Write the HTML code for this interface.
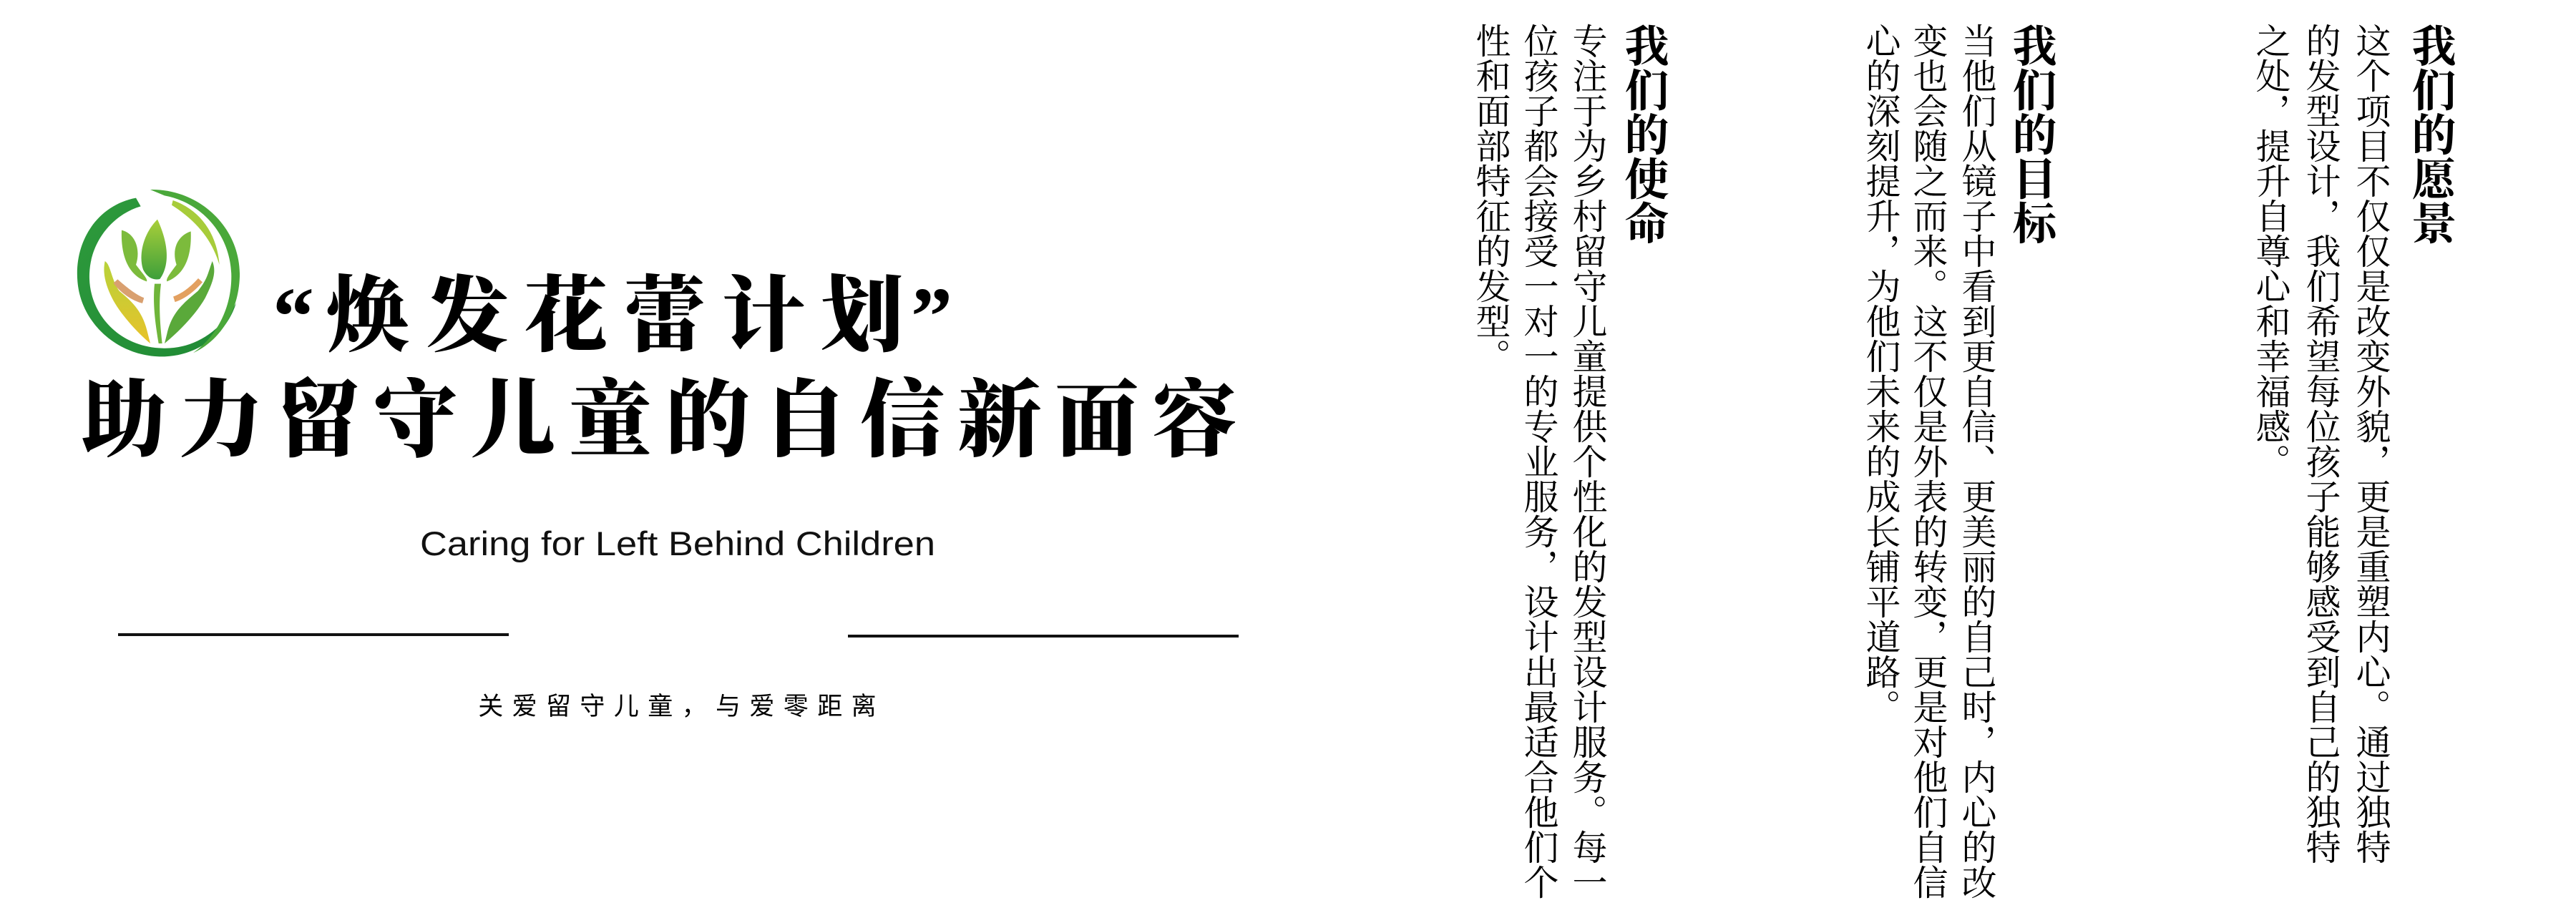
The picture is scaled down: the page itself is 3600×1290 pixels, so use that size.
<!DOCTYPE html>
<html><head><meta charset="utf-8">
<style>
html,body{margin:0;padding:0;background:#fff;}
#page{position:relative;width:3600px;height:1290px;overflow:hidden;background:#fff;}
.c{position:absolute;text-align:center;color:#000;}
.t1{font-family:"Liberation Serif","Noto Serif CJK SC",serif;font-weight:900;font-size:116px;line-height:116px;width:138px;top:385px;}
.t2{font-family:"Liberation Serif","Noto Serif CJK SC",serif;font-weight:900;font-size:118px;line-height:118px;width:136px;top:530px;}
.sub{font-family:"Liberation Sans","Noto Sans CJK SC",sans-serif;font-size:35px;line-height:36px;width:47.4px;top:970px;}
.col{position:absolute;writing-mode:vertical-rl;font-family:"Liberation Serif","Noto Serif CJK SC",serif;white-space:nowrap;color:#000;}
.h{font-size:62px;line-height:62px;font-weight:700;top:32px;}
.b{font-size:49px;line-height:49px;top:32px;}
.rule{position:absolute;height:4px;background:#111;}
</style></head><body>
<div id="page">

<svg style="position:absolute;left:90px;top:250px" width="270" height="270" viewBox="0 0 810 810">
  <defs>
    <linearGradient id="g1" x1="0" y1="0" x2="1" y2="1"><stop offset="0" stop-color="#2e9a3c"/><stop offset="1" stop-color="#1f8a35"/></linearGradient>
    <linearGradient id="g2" x1="0" y1="0" x2="0" y2="1"><stop offset="0" stop-color="#a9cf3a"/><stop offset="1" stop-color="#3d9f3a"/></linearGradient>
    <linearGradient id="g3" x1="0" y1="0" x2="0" y2="1"><stop offset="0" stop-color="#b7d23a"/><stop offset="1" stop-color="#e8c22a"/></linearGradient>
  </defs>
  <path d="M300 80 C140 110 40 260 55 430 C70 610 230 750 420 745 C560 740 680 650 720 520 C650 650 530 715 410 710 C230 705 110 570 105 420 C100 270 200 150 320 115 Z" fill="url(#g1)"/>
  <path d="M360 45 C560 40 740 200 735 410 C730 560 650 680 540 730 C640 660 700 540 700 410 C700 240 580 100 420 70 Z" fill="#4aa83a"/>
  <path d="M455 90 C570 130 640 230 650 360 C620 260 560 180 450 110 Z" fill="#a7cc3a"/>
  <path d="M390 170 C330 230 310 320 330 380 C350 420 380 425 400 420 C430 380 450 300 390 170 Z" fill="url(#g2)"/>
  <path d="M240 215 C300 230 320 300 300 360 C330 400 350 420 345 430 C280 410 235 340 240 215 Z" fill="#7cbb3c"/>
  <path d="M530 220 C470 240 450 300 470 360 C440 400 425 420 430 430 C495 405 535 340 530 220 Z" fill="#7cbb3c"/>
  <path d="M170 345 C195 360 195 420 230 470 C290 520 330 560 350 650 L360 690 C300 640 230 560 200 500 C170 440 160 390 170 345 Z" fill="url(#g3)"/>
  <path d="M215 430 C260 470 300 500 330 510 C290 500 245 470 215 430 Z" stroke="#d9a070" stroke-width="24" fill="none"/>
  <path d="M620 345 C600 400 600 420 560 470 C500 520 450 560 430 650 L420 690 C480 640 550 570 590 500 C620 440 640 390 620 345 Z" fill="#5aa93a"/>
  <path d="M570 425 C530 470 490 495 460 505" stroke="#e3a060" stroke-width="24" fill="none"/>
  <path d="M378 440 C370 520 380 600 395 690 L410 690 C400 600 395 520 405 440 Z" fill="#6fb53a"/>
</svg>

<div class="c t1" style="left:370px;width:80px;">“</div>
<div class="c t1" style="left:446px;">焕</div>
<div class="c t1" style="left:584px;">发</div>
<div class="c t1" style="left:722px;">花</div>
<div class="c t1" style="left:860px;">蕾</div>
<div class="c t1" style="left:998px;">计</div>
<div class="c t1" style="left:1136px;">划</div>
<div class="c t1" style="left:1262px;width:80px;">”</div>

<div>
<div class="c t2" style="left:105px">助</div><div class="c t2" style="left:241px">力</div><div class="c t2" style="left:377px">留</div><div class="c t2" style="left:513px">守</div><div class="c t2" style="left:649px">儿</div><div class="c t2" style="left:785px">童</div><div class="c t2" style="left:921px">的</div><div class="c t2" style="left:1057px">自</div><div class="c t2" style="left:1193px">信</div><div class="c t2" style="left:1329px">新</div><div class="c t2" style="left:1465px">面</div><div class="c t2" style="left:1601px">容</div>
</div>

<svg style="position:absolute;left:0;top:720px" width="1800" height="90">
  <text x="587" y="56" font-family="Liberation Sans, sans-serif" font-size="47" textLength="720" lengthAdjust="spacingAndGlyphs" fill="#111">Caring for Left Behind Children</text>
</svg>

<div class="rule" style="left:165px;top:885px;width:546px;"></div>
<div class="rule" style="left:1185px;top:887px;width:546px;"></div>

<div>
<div class="c sub" style="left:662px">关</div><div class="c sub" style="left:709.4px">爱</div><div class="c sub" style="left:756.8px">留</div><div class="c sub" style="left:804.2px">守</div><div class="c sub" style="left:851.6px">儿</div><div class="c sub" style="left:899px">童</div><div class="c sub" style="left:946.4px">，</div><div class="c sub" style="left:993.8px">与</div><div class="c sub" style="left:1041.2px">爱</div><div class="c sub" style="left:1088.6px">零</div><div class="c sub" style="left:1136px">距</div><div class="c sub" style="left:1183.4px">离</div>
</div>

<!-- Mission -->
<div class="col h" style="left:2264px;">我们的使命</div>
<div class="col b" style="left:2194px;">专注于为乡村留守儿童提供个性化的发型设计服务。每一</div>
<div class="col b" style="left:2126px;">位孩子都会接受一对一的专业服务，设计出最适合他们个</div>
<div class="col b" style="left:2059px;">性和面部特征的发型。</div>

<!-- Goal -->
<div class="col h" style="left:2806px;">我们的目标</div>
<div class="col b" style="left:2738px;">当他们从镜子中看到更自信、更美丽的自己时，内心的改</div>
<div class="col b" style="left:2670px;">变也会随之而来。这不仅是外表的转变，更是对他们自信</div>
<div class="col b" style="left:2604px;">心的深刻提升，为他们未来的成长铺平道路。</div>

<!-- Vision -->
<div class="col h" style="left:3364px;">我们的愿景</div>
<div class="col b" style="left:3289px;">这个项目不仅仅是改变外貌，更是重塑内心。通过独特</div>
<div class="col b" style="left:3219px;">的发型设计，我们希望每位孩子能够感受到自己的独特</div>
<div class="col b" style="left:3149px;">之处，提升自尊心和幸福感。</div>

</div>
</body></html>
